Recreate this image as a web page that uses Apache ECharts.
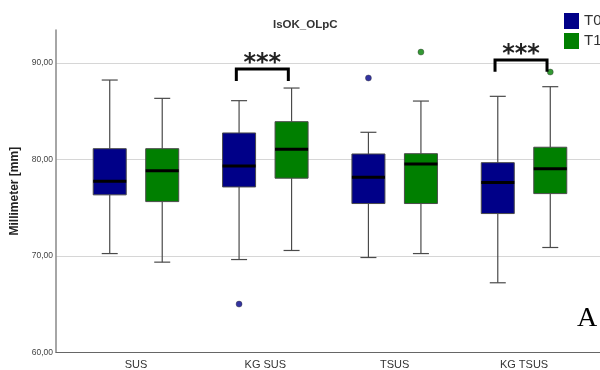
<!DOCTYPE html>
<html>
<head>
<meta charset="utf-8">
<script src="https://cdn.jsdelivr.net/npm/echarts@6/dist/echarts.min.js"></script>
<style>html,body{margin:0;padding:0;background:#fff}#c{width:600px;height:370px}</style>
</head>
<body>
<div id="c"></div>
<script>
// ---- data ----
const categories = ['SUS', 'KG SUS', 'TSUS', 'KG TSUS'];
const seriesNames = ['T0', 'T1'];
// [min, Q1, median, Q3, max] per category
const t0Box = [
  [70.21, 76.30, 77.71, 81.09, 88.21],
  [69.59, 77.12, 79.30, 82.72, 86.07],
  [69.80, 75.40, 78.13, 80.54, 82.79],
  [67.18, 74.36, 77.57, 79.64, 86.52]
];
const t1Box = [
  [69.32, 75.60, 78.81, 81.09, 86.31],
  [70.53, 78.03, 81.03, 83.89, 87.38],
  [70.21, 75.40, 79.51, 80.57, 86.03],
  [70.84, 76.43, 79.02, 81.24, 87.52]
];
// outliers: [category index, value]
const t0Outliers = [[1, 64.97], [2, 88.42]];
const t1Outliers = [[2, 91.11], [3, 89.04]];
// significance brackets: [category index, bracket top value, leg bottom value]
const sigMarks = [[1, 89.35, 88.10], [3, 90.28, 89.07]];
const sigLabel = '***';
const yTicks = [60, 70, 80, 90];

const colors = ['#000088', '#007f00'];
const offsets = [-26.25, 26.25];
const BOX_W = 33, CAP_HALF = 8;

function boxRender(offset) {
  return function (params, api) {
    const ci = api.value(0);
    const pMin = api.coord([ci, api.value(1)]);
    const pQ1 = api.coord([ci, api.value(2)]);
    const pMed = api.coord([ci, api.value(3)]);
    const pQ3 = api.coord([ci, api.value(4)]);
    const pMax = api.coord([ci, api.value(5)]);
    const x = pMin[0] + offset;
    const color = api.visual('color');
    const wStyle = { stroke: '#4a4a4a', lineWidth: 1.2 };
    return {
      type: 'group',
      children: [
        { type: 'line', shape: { x1: x, y1: pQ1[1], x2: x, y2: pMin[1] }, style: wStyle },
        { type: 'line', shape: { x1: x, y1: pQ3[1], x2: x, y2: pMax[1] }, style: wStyle },
        { type: 'line', shape: { x1: x - CAP_HALF, y1: pMin[1], x2: x + CAP_HALF, y2: pMin[1] }, style: wStyle },
        { type: 'line', shape: { x1: x - CAP_HALF, y1: pMax[1], x2: x + CAP_HALF, y2: pMax[1] }, style: wStyle },
        { type: 'rect', shape: { x: x - BOX_W / 2, y: pQ3[1], width: BOX_W, height: pQ1[1] - pQ3[1] },
          style: { fill: color, stroke: '#4a4a4a', lineWidth: 1 } },
        { type: 'line', shape: { x1: x - BOX_W / 2, y1: pMed[1], x2: x + BOX_W / 2, y2: pMed[1] },
          style: { stroke: '#000', lineWidth: 3 } }
      ]
    };
  };
}

function sigRender(params, api) {
  const ci = api.value(0);
  const top = api.coord([ci, api.value(1)]);
  const bot = api.coord([ci, api.value(2)]);
  const cx = top[0];
  const xl = cx - 29, xr = cx + 23;
  return {
    type: 'group',
    children: [
      { type: 'polyline', shape: { points: [[xl, bot[1]], [xl, top[1]], [xr, top[1]], [xr, bot[1]]] },
        style: { stroke: '#000', lineWidth: 3, fill: null } },
      { type: 'text', style: { text: sigLabel, x: cx - 3, y: top[1] + 7, align: 'center', verticalAlign: 'bottom',
          font: 'bold 24px "DejaVu Sans"', fill: '#222' } }
    ]
  };
}

const boxSets = [t0Box, t1Box];
const outlierSets = [t0Outliers, t1Outliers];

const series = [];
seriesNames.forEach(function (name, i) {
  series.push({
    type: 'custom', name: name, xAxisIndex: 1, yAxisIndex: 1,
    itemStyle: { color: colors[i] },
    renderItem: boxRender(offsets[i]),
    encode: { x: 0, y: [1, 2, 3, 4, 5] },
    data: boxSets[i].map(function (b, ci) { return [ci].concat(b); }),
    z: 3
  });
  series.push({
    type: 'scatter', name: name, xAxisIndex: 1, yAxisIndex: 1,
    symbolSize: 6, symbolOffset: [offsets[i], 0],
    itemStyle: { color: colors[i], borderColor: '#333', borderWidth: 0.5 },
    data: outlierSets[i],
    z: 4
  });
});
series.push({
  type: 'custom', name: 'sig', xAxisIndex: 1, yAxisIndex: 1,
  renderItem: sigRender, encode: { x: 0, y: [1, 2] },
  data: sigMarks, z: 5, silent: true
});

const chart = echarts.init(document.getElementById('c'), null, { renderer: 'canvas' });
chart.setOption({
  animation: false,
  backgroundColor: '#fff',
  title: {
    text: 'IsOK_OLpC', left: 268, top: 14,
    textStyle: { fontFamily: 'Liberation Sans', fontSize: 11.5, fontWeight: 'bold', color: '#333' }
  },
  legend: {
    orient: 'vertical', left: 559, top: 8, itemWidth: 15, itemHeight: 16, itemGap: 4,
    data: [{ name: 'T0', icon: 'rect' }, { name: 'T1', icon: 'rect' }],
    textStyle: { fontFamily: 'Liberation Sans', fontSize: 15, color: '#333' }
  },
  grid: [
    { left: 56, right: 0, top: 30, bottom: 17.7 },
    { left: 71.3, right: 11.3, top: 30, bottom: 17.7 }
  ],
  xAxis: [
    { type: 'category', gridIndex: 0, data: categories,
      axisLine: { lineStyle: { color: '#666', width: 1 } }, axisTick: { show: false }, axisLabel: { show: false } },
    { type: 'category', gridIndex: 1, data: categories,
      axisLine: { show: false }, axisTick: { show: false },
      axisLabel: { margin: 7, fontFamily: 'Liberation Sans', fontSize: 11, color: '#333' } }
  ],
  yAxis: [
    { type: 'value', gridIndex: 0, min: yTicks[0], max: 93.4, interval: 10,
      name: 'Millimeter [mm]', nameLocation: 'middle', nameGap: 30, nameRotate: 90,
      nameTextStyle: { fontFamily: 'Liberation Sans', fontSize: 12, fontWeight: 'bold', color: '#222' },
      axisLine: { show: true, lineStyle: { color: '#888', width: 1.5 } }, axisTick: { show: false },
      axisLabel: { margin: 3, fontFamily: 'Liberation Sans', fontSize: 8.5, color: '#444', showMaxLabel: false,
        formatter: function (v) { return yTicks.indexOf(v) >= 0 ? v.toFixed(2).replace('.', ',') : ''; } },
      splitLine: { show: true, showMinLine: false, showMaxLine: false, lineStyle: { color: '#d6d6d6', width: 1.2 } } },
    { type: 'value', gridIndex: 1, min: yTicks[0], max: 93.4, interval: 10, show: false, splitLine: { show: false } }
  ],
  graphic: [
    { type: 'text', left: 577, top: 305, style: { text: 'A', font: '28px "Liberation Serif"', fill: '#000' } }
  ],
  series: series
});
</script>
</body>
</html>
